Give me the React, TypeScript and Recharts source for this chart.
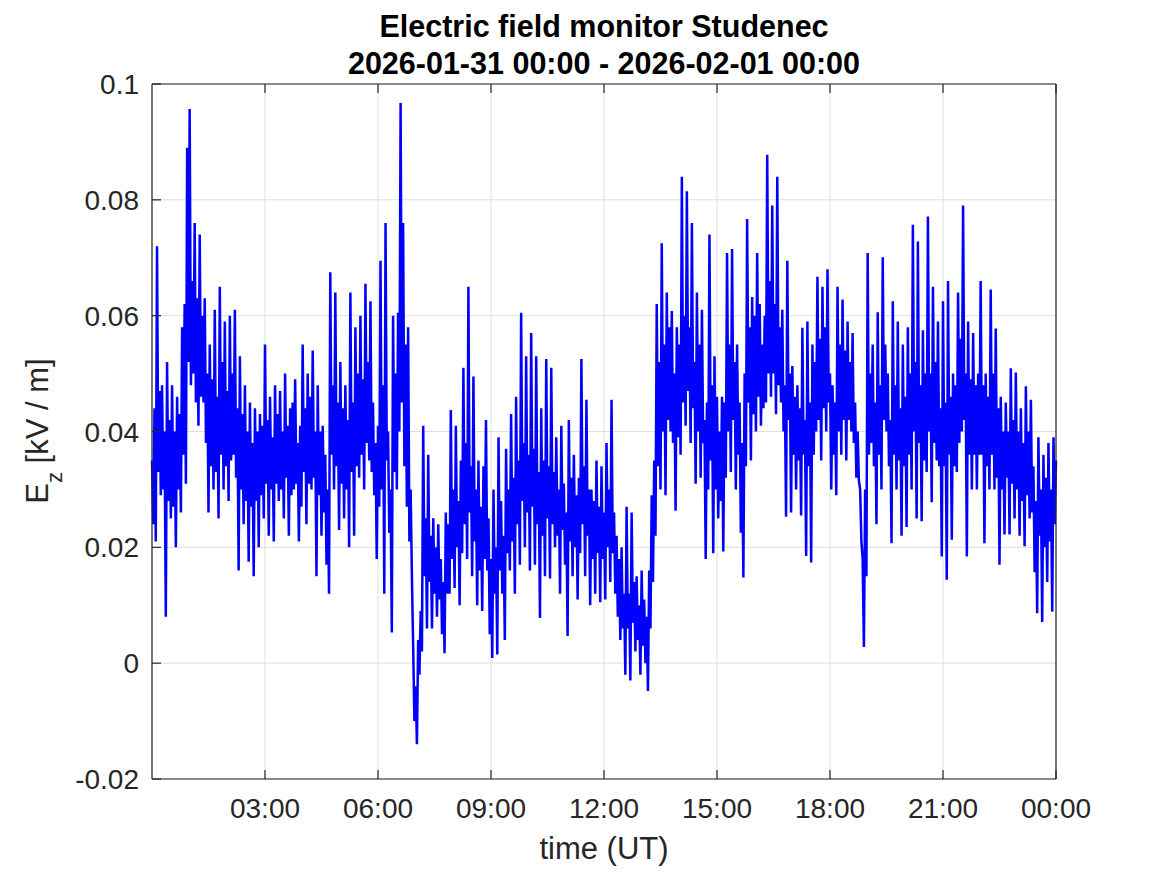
import React from "react";
import { LineChart, Line, XAxis, YAxis, CartesianGrid, Label } from "recharts";

// Ez samples every 2 minutes, 2026-01-31 00:00 .. 2026-02-01 00:00 (kV/m)
const ez: number[] = [
  0.035, 0.024, 0.044, 0.021, 0.072, 0.033, 0.047, 0.029, 0.048, 0.030,
  0.040, 0.008, 0.052, 0.028, 0.042, 0.025, 0.048, 0.027, 0.040, 0.020,
  0.046, 0.030, 0.043, 0.026, 0.058, 0.036, 0.062, 0.031, 0.089, 0.052,
  0.0957, 0.048, 0.066, 0.050, 0.076, 0.045, 0.063, 0.041, 0.074, 0.046,
  0.060, 0.045, 0.063, 0.038, 0.050, 0.026, 0.055, 0.034, 0.049, 0.030,
  0.061, 0.033, 0.046, 0.025, 0.065, 0.036, 0.052, 0.030, 0.059, 0.034,
  0.047, 0.028, 0.060, 0.035, 0.050, 0.036, 0.061, 0.032, 0.044, 0.016,
  0.053, 0.030, 0.043, 0.024, 0.048, 0.028, 0.040, 0.0175, 0.045, 0.027,
  0.038, 0.015, 0.044, 0.028, 0.040, 0.020, 0.043, 0.029, 0.041, 0.025,
  0.055, 0.031, 0.042, 0.022, 0.046, 0.030, 0.039, 0.021, 0.048, 0.031,
  0.043, 0.028, 0.047, 0.030, 0.040, 0.025, 0.050, 0.032, 0.041, 0.022,
  0.044, 0.029, 0.045, 0.030, 0.049, 0.031, 0.038, 0.021, 0.041, 0.027,
  0.055, 0.033, 0.044, 0.024, 0.050, 0.031, 0.046, 0.030, 0.054, 0.032,
  0.040, 0.015, 0.048, 0.029, 0.040, 0.022, 0.041, 0.026, 0.036, 0.017,
  0.030, 0.012, 0.0675, 0.036, 0.048, 0.030, 0.064, 0.034, 0.045, 0.023,
  0.052, 0.031, 0.044, 0.025, 0.048, 0.030, 0.042, 0.020, 0.064, 0.033,
  0.045, 0.022, 0.058, 0.034, 0.050, 0.032, 0.060, 0.036, 0.049, 0.030,
  0.0655, 0.038, 0.052, 0.035, 0.0625, 0.033, 0.045, 0.029, 0.038, 0.018,
  0.041, 0.027, 0.0695, 0.030, 0.048, 0.012, 0.076, 0.035, 0.040, 0.0225,
  0.030, 0.0053, 0.060, 0.033, 0.050, 0.030, 0.0605, 0.040, 0.0967, 0.045,
  0.076, 0.034, 0.055, 0.027, 0.058, 0.021, 0.030, 0.015, 0.003, -0.010,
  -0.004, -0.014, 0.004, -0.002, 0.009, 0.002, 0.041, 0.015, 0.025, 0.006,
  0.036, 0.014, 0.022, 0.006, 0.025, 0.012, 0.020, 0.008, 0.024, 0.011,
  0.018, 0.005, 0.014, 0.0017, 0.026, 0.012, 0.024, 0.012, 0.0437, 0.018,
  0.030, 0.013, 0.041, 0.020, 0.028, 0.010, 0.035, 0.019, 0.051, 0.024,
  0.038, 0.018, 0.065, 0.026, 0.034, 0.015, 0.0495, 0.021, 0.030, 0.010,
  0.035, 0.016, 0.027, 0.009, 0.034, 0.018, 0.042, 0.016, 0.025, 0.005,
  0.018, 0.0009, 0.030, 0.012, 0.020, 0.0015, 0.039, 0.016, 0.028, 0.012,
  0.022, 0.004, 0.037, 0.019, 0.030, 0.016, 0.043, 0.021, 0.032, 0.012,
  0.046, 0.024, 0.035, 0.017, 0.0605, 0.028, 0.038, 0.020, 0.053, 0.026,
  0.036, 0.016, 0.057, 0.027, 0.037, 0.017, 0.053, 0.024, 0.033, 0.0078,
  0.044, 0.022, 0.035, 0.015, 0.0525, 0.025, 0.034, 0.0146, 0.051, 0.024,
  0.033, 0.020, 0.039, 0.022, 0.030, 0.012, 0.041, 0.023, 0.031, 0.017,
  0.026, 0.0047, 0.042, 0.021, 0.032, 0.015, 0.036, 0.020, 0.029, 0.011,
  0.032, 0.019, 0.0525, 0.024, 0.034, 0.015, 0.0455, 0.022, 0.030, 0.010,
  0.030, 0.018, 0.028, 0.012, 0.035, 0.019, 0.027, 0.0105, 0.034, 0.018,
  0.026, 0.011, 0.038, 0.020, 0.030, 0.014, 0.0455, 0.019, 0.026, 0.012,
  0.022, 0.008, 0.018, 0.004, 0.020, 0.006, 0.012, -0.002, 0.027, 0.006,
  0.012, -0.003, 0.026, 0.007, 0.014, 0.002, 0.015, 0.004, 0.010, -0.002,
  0.016, 0.003, 0.011, 0.000, 0.008, -0.0048, 0.016, 0.006, 0.029, 0.014,
  0.035, 0.022, 0.062, 0.034, 0.052, 0.030, 0.0725, 0.040, 0.055, 0.029,
  0.064, 0.042, 0.058, 0.040, 0.0608, 0.038, 0.050, 0.0263, 0.058, 0.039,
  0.055, 0.036, 0.084, 0.045, 0.060, 0.041, 0.0815, 0.047, 0.058, 0.038,
  0.076, 0.044, 0.052, 0.031, 0.064, 0.040, 0.055, 0.032, 0.061, 0.038,
  0.042, 0.018, 0.045, 0.030, 0.074, 0.035, 0.048, 0.019, 0.053, 0.030,
  0.046, 0.025, 0.040, 0.028, 0.046, 0.0193, 0.045, 0.032, 0.0708, 0.040,
  0.055, 0.033, 0.0715, 0.042, 0.052, 0.030, 0.055, 0.036, 0.045, 0.0225,
  0.038, 0.0148, 0.050, 0.034, 0.0767, 0.045, 0.058, 0.035, 0.0632, 0.043,
  0.060, 0.040, 0.0708, 0.046, 0.062, 0.041, 0.055, 0.044, 0.060, 0.045,
  0.0878, 0.050, 0.066, 0.046, 0.079, 0.050, 0.062, 0.043, 0.084, 0.048,
  0.058, 0.045, 0.061, 0.040, 0.048, 0.0253, 0.0695, 0.042, 0.050, 0.026,
  0.0513, 0.036, 0.046, 0.030, 0.048, 0.035, 0.044, 0.0255, 0.0579, 0.036,
  0.042, 0.0185, 0.059, 0.034, 0.045, 0.0174, 0.055, 0.036, 0.052, 0.040,
  0.0667, 0.042, 0.056, 0.035, 0.065, 0.044, 0.058, 0.040, 0.068, 0.045,
  0.050, 0.030, 0.048, 0.036, 0.045, 0.029, 0.065, 0.040, 0.055, 0.036,
  0.0628, 0.042, 0.054, 0.035, 0.059, 0.042, 0.052, 0.040, 0.057, 0.038,
  0.045, 0.032, 0.040, 0.0315, 0.030, 0.021, 0.018, 0.0028, 0.030, 0.015,
  0.0708, 0.036, 0.050, 0.038, 0.055, 0.034, 0.045, 0.024, 0.0606, 0.036,
  0.048, 0.030, 0.0701, 0.042, 0.055, 0.040, 0.050, 0.034, 0.042, 0.0207,
  0.0625, 0.036, 0.048, 0.030, 0.059, 0.035, 0.044, 0.022, 0.055, 0.034,
  0.046, 0.0235, 0.058, 0.036, 0.050, 0.030, 0.0757, 0.040, 0.052, 0.025,
  0.0728, 0.038, 0.048, 0.0245, 0.0575, 0.035, 0.050, 0.033, 0.0771, 0.040,
  0.050, 0.0278, 0.065, 0.038, 0.052, 0.035, 0.059, 0.034, 0.044, 0.0184,
  0.0625, 0.034, 0.045, 0.0144, 0.066, 0.036, 0.046, 0.0213, 0.050, 0.034,
  0.048, 0.033, 0.064, 0.038, 0.056, 0.040, 0.079, 0.042, 0.050, 0.0184,
  0.059, 0.036, 0.049, 0.030, 0.057, 0.036, 0.048, 0.030, 0.050, 0.036,
  0.066, 0.036, 0.048, 0.0207, 0.050, 0.034, 0.046, 0.030, 0.0645, 0.036,
  0.050, 0.030, 0.0578, 0.032, 0.044, 0.017, 0.046, 0.030, 0.040, 0.0222,
  0.045, 0.032, 0.040, 0.0222, 0.0509, 0.031, 0.042, 0.025, 0.0502, 0.030,
  0.040, 0.022, 0.044, 0.028, 0.038, 0.0202, 0.0478, 0.029, 0.040, 0.025,
  0.0455, 0.026, 0.034, 0.0157, 0.028, 0.0086, 0.039, 0.022, 0.030, 0.0071,
  0.036, 0.020, 0.032, 0.014, 0.038, 0.021, 0.030, 0.0089, 0.039, 0.024,
  0.035,
];

const sampleMinutes = 2;

const xTicks = [3, 6, 9, 12, 15, 18, 21, 24];
const xTickLabels = ["03:00", "06:00", "09:00", "12:00", "15:00", "18:00", "21:00", "00:00"];
const yTicks = [-0.02, 0, 0.02, 0.04, 0.06, 0.08, 0.1];

const titleLines = ["Electric field monitor Studenec", "2026-01-31 00:00 - 2026-02-01 00:00"];

const data = ez.map((v, i) => ({ t: (i * sampleMinutes) / 60, ez: v }));

const FONT = '"Liberation Sans", Arial, Helvetica, sans-serif';
const AXIS = "#262626";
const TICK_LEN = 9;

const formatY = (v: number) => (v === 0 ? "0" : String(+v.toFixed(2)));
const formatX = (v: number) => xTickLabels[xTicks.indexOf(v)] ?? "";

// MATLAB-style ticks: short lines pointing into the plot box
function BottomTick(props: any) {
  const { x, y, payload } = props;
  return (
    <g>
      <line x1={x} y1={y} x2={x} y2={y - TICK_LEN} stroke={AXIS} strokeWidth={1.2} />
      <text x={x} y={y + 39} textAnchor="middle" fontFamily={FONT} fontSize={28} fill={AXIS}>
        {formatX(payload.value)}
      </text>
    </g>
  );
}

function TopTick(props: any) {
  const { x, y } = props;
  return <line x1={x} y1={y} x2={x} y2={y + TICK_LEN} stroke={AXIS} strokeWidth={1.2} />;
}

function LeftTick(props: any) {
  const { x, y, payload } = props;
  return (
    <g>
      <line x1={x} y1={y} x2={x + TICK_LEN} y2={y} stroke={AXIS} strokeWidth={1.2} />
      <text x={x - 13} y={y + 10} textAnchor="end" fontFamily={FONT} fontSize={28} fill={AXIS}>
        {formatY(payload.value)}
      </text>
    </g>
  );
}

function RightTick(props: any) {
  const { x, y } = props;
  return <line x1={x} y1={y} x2={x - TICK_LEN} y2={y} stroke={AXIS} strokeWidth={1.2} />;
}

function YLabel() {
  return (
    <text
      x={48}
      y={431}
      transform="rotate(-90, 48, 431)"
      textAnchor="middle"
      fontFamily={FONT}
      fontSize={31}
      fill={AXIS}
    >
      E
      <tspan fontSize={22} dy={14}>z</tspan>
      <tspan dy={-14}> [kV / m]</tspan>
    </text>
  );
}

function XLabel() {
  return (
    <text x={604} y={859} textAnchor="middle" fontFamily={FONT} fontSize={31} fill={AXIS}>
      time (UT)
    </text>
  );
}

export default function App() {
  return (
    <div style={{ position: "absolute", left: 0, top: 0, width: 1167, height: 875, background: "#fff" }}>
      <LineChart width={1167} height={875} data={data} margin={{ top: 83, right: 110, bottom: 0, left: 0 }}>
        <CartesianGrid stroke="#dfdfdf" strokeWidth={1} />
        <Line
          type="linear"
          dataKey="ez"
          stroke="#0000ff"
          strokeWidth={2.5}
          dot={false}
          activeDot={false}
          isAnimationActive={false}
        />
        <XAxis
          dataKey="t"
          type="number"
          domain={[0, 24]}
          ticks={xTicks}
          interval={0}
          height={96}
          tickSize={0}
          tickMargin={0}
          tickLine={false}
          axisLine={{ stroke: AXIS, strokeWidth: 1.2 }}
          tick={<BottomTick />}
        >
          <Label content={<XLabel />} />
        </XAxis>
        <XAxis
          xAxisId="top"
          orientation="top"
          dataKey="t"
          type="number"
          domain={[0, 24]}
          ticks={xTicks}
          interval={0}
          height={1}
          tickSize={0}
          tickMargin={0}
          tickLine={false}
          axisLine={{ stroke: AXIS, strokeWidth: 1.2 }}
          tick={<TopTick />}
        />
        <YAxis
          type="number"
          domain={[-0.02, 0.1]}
          ticks={yTicks}
          interval={0}
          allowDataOverflow
          width={152}
          tickSize={0}
          tickMargin={0}
          tickLine={false}
          axisLine={{ stroke: AXIS, strokeWidth: 1.2 }}
          tick={<LeftTick />}
        >
          <Label content={<YLabel />} />
        </YAxis>
        <YAxis
          yAxisId="right"
          orientation="right"
          type="number"
          domain={[-0.02, 0.1]}
          ticks={yTicks}
          interval={0}
          width={1}
          tickSize={0}
          tickMargin={0}
          tickLine={false}
          axisLine={{ stroke: AXIS, strokeWidth: 1.2 }}
          tick={<RightTick />}
        />
      </LineChart>
      <svg
        width={1167}
        height={80}
        style={{ position: "absolute", left: 0, top: 0, pointerEvents: "none" }}
      >
        {titleLines.map((line, i) => (
          <text
            key={i}
            x={604}
            y={37 + i * 37}
            textAnchor="middle"
            fontFamily={FONT}
            fontWeight="bold"
            fontSize={30.5}
            fill="#000"
          >
            {line}
          </text>
        ))}
      </svg>
    </div>
  );
}
